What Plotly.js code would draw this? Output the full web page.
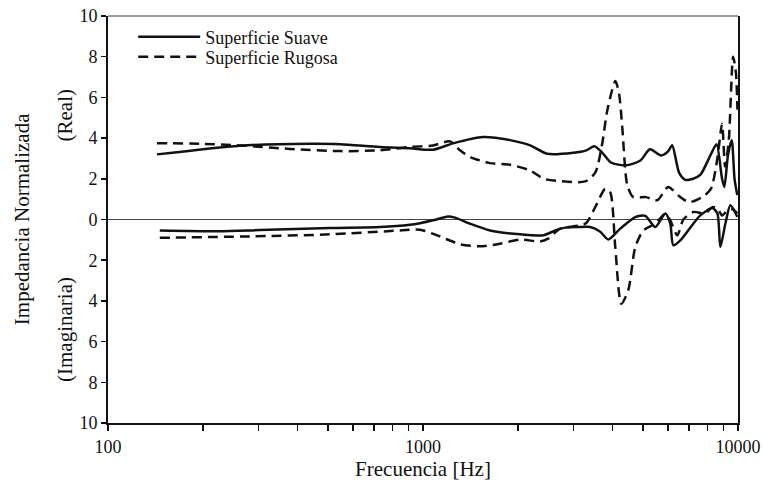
<!DOCTYPE html>
<html>
<head>
<meta charset="utf-8">
<script src="https://cdn.plot.ly/plotly-3.0.1.min.js"></script>
<style>
  html, body { margin: 0; padding: 0; background: #fff; }
  #chart { width: 763px; height: 487px; }
</style>
</head>
<body>
<div id="chart"></div>
<script>
// Normalised impedance vs frequency, smooth and rough surfaces.
// Real part is drawn above zero; imaginary part below (axis labels show magnitudes).

const freqRealSuave = [143, 262, 437, 545, 730, 909, 1076, 1245, 1551, 1889, 2189, 2478, 3000, 3300, 3500, 3700, 3950, 4400, 4900, 5250, 5700, 6000, 6180, 6500, 6800, 7200, 7600, 8200, 8550, 8900, 9050, 9300, 9550, 9750, 9950];
const realSuave     = [3.2, 3.63, 3.72, 3.7, 3.56, 3.5, 3.43, 3.74, 4.05, 3.9, 3.64, 3.23, 3.28, 3.4, 3.6, 3.3, 2.8, 2.66, 2.9, 3.45, 3.15, 3.35, 3.65, 2.3, 1.95, 2.0, 2.2, 3.2, 3.7, 2.0, 1.6, 3.2, 3.9, 2.0, 1.2];

const freqRealRugosa = [143, 196, 262, 378, 545, 730, 909, 1076, 1219, 1311, 1411, 1633, 1889, 2189, 2420, 2725, 3273, 3522, 3707, 3846, 4080, 4190, 4291, 4450, 4650, 5100, 5550, 6000, 6500, 7000, 7700, 8200, 8600, 8900, 9100, 9350, 9650, 9850, 9960];
const realRugosa     = [3.75, 3.72, 3.64, 3.47, 3.36, 3.4, 3.56, 3.64, 3.84, 3.4, 3.07, 2.77, 2.69, 2.41, 2.0, 1.89, 1.87, 2.3, 3.74, 5.36, 6.8, 6.2, 4.54, 1.7, 1.1, 1.1, 0.95, 1.6, 1.15, 0.85, 1.1, 1.5, 3.0, 4.7, 2.6, 3.9, 8.0, 7.2, 5.4];

// Imaginary part, signed as drawn (negative = below the zero line)
const freqImagSuave = [146, 226, 303, 506, 730, 909, 978, 1076, 1200, 1264, 1411, 1633, 2034, 2406, 2628, 2827, 3109, 3395, 3652, 3873, 4229, 4720, 5078, 5464, 5880, 6095, 6233, 6561, 7590, 8292, 8601, 8791, 9119, 9459, 9957];
const imagSuave     = [-0.54, -0.58, -0.52, -0.42, -0.37, -0.26, -0.18, -0.04, 0.15, 0.09, -0.21, -0.54, -0.73, -0.78, -0.54, -0.4, -0.37, -0.37, -0.6, -0.98, -0.45, 0.12, 0.18, -0.37, 0.29, -0.2, -1.27, -1.03, 0.2, 0.56, 0.3, -1.35, -0.2, 0.7, 0.12];

const freqImagRugosa = [146, 282, 506, 845, 978, 1132, 1311, 1518, 1757, 2034, 2355, 2496, 2725, 3273, 3522, 3789, 3928, 4077, 4260, 4483, 4720, 5004, 5464, 5880, 6095, 6418, 6706, 7215, 7878, 8292, 8600, 8900, 9200, 9600, 9957];
const imagRugosa     = [-0.9, -0.83, -0.73, -0.54, -0.5, -0.83, -1.22, -1.32, -1.19, -0.99, -1.08, -0.94, -0.45, -0.21, 0.61, 1.51, 1.35, -1.35, -4.14, -3.48, -1.35, -0.54, -0.21, 0.29, -0.04, -0.78, 0.0, 0.37, 0.3, 0.61, 0.55, 0.2, 0.4, 0.5, 0.3];

const xTickVals = [100, 200, 300, 400, 500, 600, 700, 800, 900, 1000, 2000, 3000, 4000, 5000, 6000, 7000, 8000, 9000, 10000];
const xTickText = ['100', '', '', '', '', '', '', '', '', '1000', '', '', '', '', '', '', '', '', '10000'];
const yTickVals = [-10, -8, -6, -4, -2, 0, 2, 4, 6, 8, 10];
const yTickText = ['10', '8', '6', '4', '2', '0', '2', '4', '6', '8', '10'];

const serif = 'Liberation Serif, Times New Roman, serif';
const ink = '#111';
const solid = { color: ink, width: 2.5, shape: 'spline', smoothing: 0.7 };
const dashed = { color: ink, width: 2.5, shape: 'spline', smoothing: 0.7, dash: '10px,6px' };

const traces = [
  { x: freqRealSuave, y: realSuave, mode: 'lines', line: solid, name: 'Superficie Suave', legendgroup: 's', legend: 'legend' },
  { x: freqRealRugosa, y: realRugosa, mode: 'lines', line: dashed, name: 'Superficie Rugosa', legendgroup: 'r', legend: 'legend2' },
  { x: freqImagSuave, y: imagSuave, mode: 'lines', line: solid, name: 'Superficie Suave', legendgroup: 's', showlegend: false },
  { x: freqImagRugosa, y: imagRugosa, mode: 'lines', line: dashed, name: 'Superficie Rugosa', legendgroup: 'r', showlegend: false }
];

// one legend box per entry so the two rows sit close together
const legendBox = (yPos) => ({
  x: 0.04, y: yPos, xanchor: 'left', yanchor: 'middle',
  bgcolor: 'rgba(0,0,0,0)', borderwidth: 0,
  font: { family: serif, size: 18, color: ink },
  itemwidth: 62
});

const layout = {
  width: 763,
  height: 487,
  margin: { l: 108, r: 25, t: 16, b: 64 },
  paper_bgcolor: '#fff',
  plot_bgcolor: '#fff',
  font: { family: serif, color: ink, size: 18 },
  showlegend: true,
  legend: legendBox(0.948),
  legend2: legendBox(0.899),
  xaxis: {
    type: 'log',
    range: [2, 4],
    tickmode: 'array',
    tickvals: xTickVals,
    ticktext: xTickText,
    ticks: 'outside', ticklen: 6, tickwidth: 1.5, tickcolor: ink,
    showline: true, linewidth: 2, linecolor: ink, mirror: false,
    showgrid: false, zeroline: false,
    tickfont: { family: serif, size: 18, color: ink },
    title: { text: 'Frecuencia [Hz]', font: { family: serif, size: 21, color: ink }, standoff: 6 }
  },
  yaxis: {
    range: [-10, 10],
    tickmode: 'array',
    tickvals: yTickVals,
    ticktext: yTickText,
    ticks: 'outside', ticklen: 5, tickwidth: 1.5, tickcolor: ink,
    showline: true, linewidth: 2, linecolor: ink, mirror: true,
    showgrid: false,
    zeroline: true, zerolinecolor: '#444', zerolinewidth: 1.5,
    tickfont: { family: serif, size: 18, color: ink }
  },
  shapes: [
    // thin frame line along the top of the plot area
    { type: 'line', xref: 'paper', yref: 'paper', x0: 0, x1: 1, y0: 1, y1: 1, line: { color: '#333', width: 1 } }
  ],
  annotations: [
    { text: 'Impedancia Normalizada', xref: 'paper', yref: 'paper', x: -0.137, y: 0.5, xanchor: 'center', yanchor: 'middle', textangle: -90, showarrow: false, font: { family: serif, size: 21, color: ink } },
    { text: '(Real)', xref: 'paper', yref: 'paper', x: -0.068, y: 0.756, xanchor: 'center', yanchor: 'middle', textangle: -90, showarrow: false, font: { family: serif, size: 21, color: ink } },
    { text: '(Imaginaria)', xref: 'paper', yref: 'paper', x: -0.068, y: 0.229, xanchor: 'center', yanchor: 'middle', textangle: -90, showarrow: false, font: { family: serif, size: 21, color: ink } }
  ]
};

Plotly.newPlot('chart', traces, layout, { staticPlot: true, displayModeBar: false });
</script>
</body>
</html>
